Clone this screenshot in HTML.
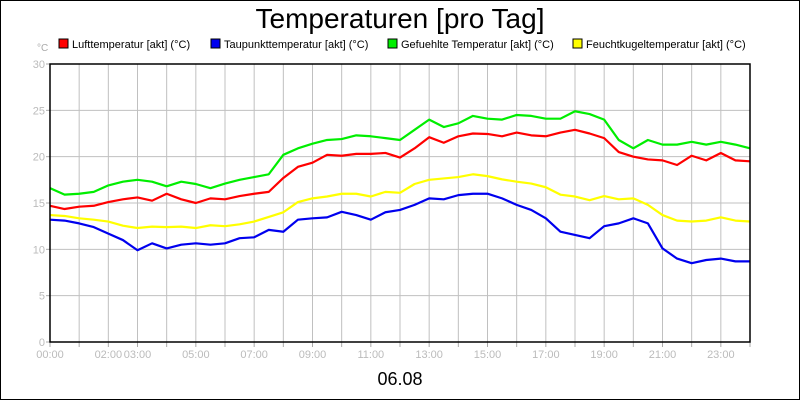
<!DOCTYPE html>
<html><head><meta charset="utf-8"><style>
body{margin:0;background:#fff}
svg{display:block;font-family:"Liberation Sans",sans-serif}
</style></head><body>
<svg id="chart" width="800" height="400">
<rect x="0.5" y="0.5" width="799" height="399" fill="#fff" stroke="#000"/>
<text x="400" y="28" font-size="28" text-anchor="middle">Temperaturen [pro Tag]</text>
<text x="37" y="51" font-size="10" fill="#aaa">°C</text>
<g id="legend" font-size="11"></g>
<g id="grid"></g>
<g id="series"></g>
<rect x="50" y="64" width="700" height="278" fill="none" stroke="#000" stroke-width="1.5"/>
<text x="400" y="385" font-size="18" text-anchor="middle">06.08</text>
</svg>
<script>
const hours=[0,0.5,1,1.5,2,2.5,3,3.5,4,4.5,5,5.5,6,6.5,7,7.5,8,8.5,9,9.5,10,10.5,11,11.5,12,12.5,13,13.5,14,14.5,15,15.5,16,16.5,17,17.5,18,18.5,19,19.5,20,20.5,21,21.5,22,22.5,23,23.5,24];
const luft=[14.7,14.35,14.6,14.7,15.1,15.4,15.6,15.25,16.0,15.4,15.0,15.5,15.4,15.75,16.0,16.2,17.7,18.9,19.35,20.2,20.1,20.3,20.3,20.4,19.9,20.9,22.1,21.5,22.2,22.5,22.45,22.2,22.6,22.3,22.2,22.6,22.9,22.5,22.0,20.5,20.0,19.7,19.6,19.1,20.1,19.6,20.4,19.6,19.5];
const taupunkt=[13.2,13.1,12.8,12.4,11.7,11.0,9.9,10.65,10.1,10.5,10.65,10.5,10.65,11.2,11.3,12.1,11.9,13.2,13.35,13.45,14.05,13.7,13.2,14.0,14.25,14.8,15.5,15.4,15.85,16.0,16.0,15.5,14.8,14.25,13.35,11.9,11.55,11.2,12.5,12.8,13.35,12.8,10.1,9.0,8.5,8.85,9.0,8.7,8.7];
const gefuehlt=[16.6,15.9,16.0,16.2,16.9,17.3,17.5,17.3,16.8,17.3,17.05,16.6,17.1,17.5,17.8,18.1,20.2,20.9,21.4,21.8,21.9,22.3,22.2,22.0,21.8,22.9,24.0,23.2,23.6,24.4,24.1,24.0,24.5,24.4,24.1,24.1,24.9,24.6,24.0,21.8,20.9,21.8,21.3,21.3,21.6,21.3,21.6,21.3,20.9];
const feucht=[13.7,13.6,13.35,13.2,13.0,12.55,12.3,12.45,12.4,12.45,12.3,12.6,12.5,12.7,13.0,13.5,14.0,15.1,15.5,15.7,16.0,16.0,15.7,16.2,16.1,17.05,17.5,17.65,17.8,18.1,17.9,17.55,17.3,17.1,16.7,15.9,15.7,15.3,15.75,15.4,15.5,14.8,13.7,13.1,13.0,13.1,13.45,13.1,13.0];
const yTicks=[0,5,10,15,20,25,30];
const xTickLabels=["00:00","02:00","03:00","05:00","07:00","09:00","11:00","13:00","15:00","17:00","19:00","21:00","23:00"];
const xTickHours=[0,2,3,5,7,9,11,13,15,17,19,21,23];
const seriesNames=["Lufttemperatur [akt] (°C)","Taupunkttemperatur [akt] (°C)","Gefuehlte Temperatur [akt] (°C)","Feuchtkugeltemperatur [akt] (°C)"];
const seriesColors=["#ff0000","#0000ee","#00ee00","#ffff00"];

const NS="http://www.w3.org/2000/svg";
const X0=50,X1=750,Y0=342,Y1=64;
const xS=h=>X0+(X1-X0)*h/24;
const yS=v=>Y0-(Y0-Y1)*v/30;
function mk(tag,attrs,parent){const e=document.createElementNS(NS,tag);for(const k in attrs)e.setAttribute(k,attrs[k]);parent.appendChild(e);return e;}
const grid=document.getElementById('grid');
for(let h=1;h<24;h++){
  const l=mk('line',{x1:xS(h),x2:xS(h),y1:Y1,y2:Y0,stroke:'#c0c0c0'},grid);
  
  
}
for(let h=0;h<=24;h++){
  const t=mk('line',{x1:xS(h),x2:xS(h),y1:Y0,y2:Y0+5,stroke:'#aaa'},grid);
  
  
}
yTicks.forEach(v=>{
  if(v>0&&v<30){const l=mk('line',{x1:X0,x2:X1,y1:yS(v),y2:yS(v),stroke:'#c0c0c0'},grid);
  
  }
  mk('line',{x1:X0-4,x2:X0,y1:yS(v),y2:yS(v),stroke:'#aaa'},grid);
  const t=mk('text',{x:X0-5,y:yS(v)+4,'font-size':11,fill:'#bbb','text-anchor':'end'},grid);
  t.textContent=v;
  
  
});
xTickLabels.forEach((s,i)=>{
  const t=mk('text',{x:xS(xTickHours[i]),y:358,'font-size':11,fill:'#bbb','text-anchor':'middle'},grid);
  t.textContent=s;
  
  
});
const ser=document.getElementById('series');
const data=[gefuehlt,luft,feucht,taupunkt];
const cols=[seriesColors[2],seriesColors[0],seriesColors[3],seriesColors[1]];
const names=['series-gefuehlt','series-luft','series-feuchtkugel','series-taupunkt'];
data.forEach((arr,i)=>{
  const p=mk('polyline',{points:arr.map((v,j)=>xS(hours[j])+','+yS(v)).join(' '),fill:'none',stroke:cols[i],'stroke-width':2.2,'stroke-linejoin':'round'},ser);
  
  
});
const lg=document.getElementById('legend');
const lx=[59,211,388,573];
seriesNames.forEach((n,i)=>{
  const r=mk('rect',{x:lx[i],y:39,width:9,height:9,fill:seriesColors[i],stroke:'#000'},lg);
  
  
  const t=mk('text',{x:lx[i]+13,y:48},lg);
  t.textContent=n;
  
  
});
</script>
</body></html>
